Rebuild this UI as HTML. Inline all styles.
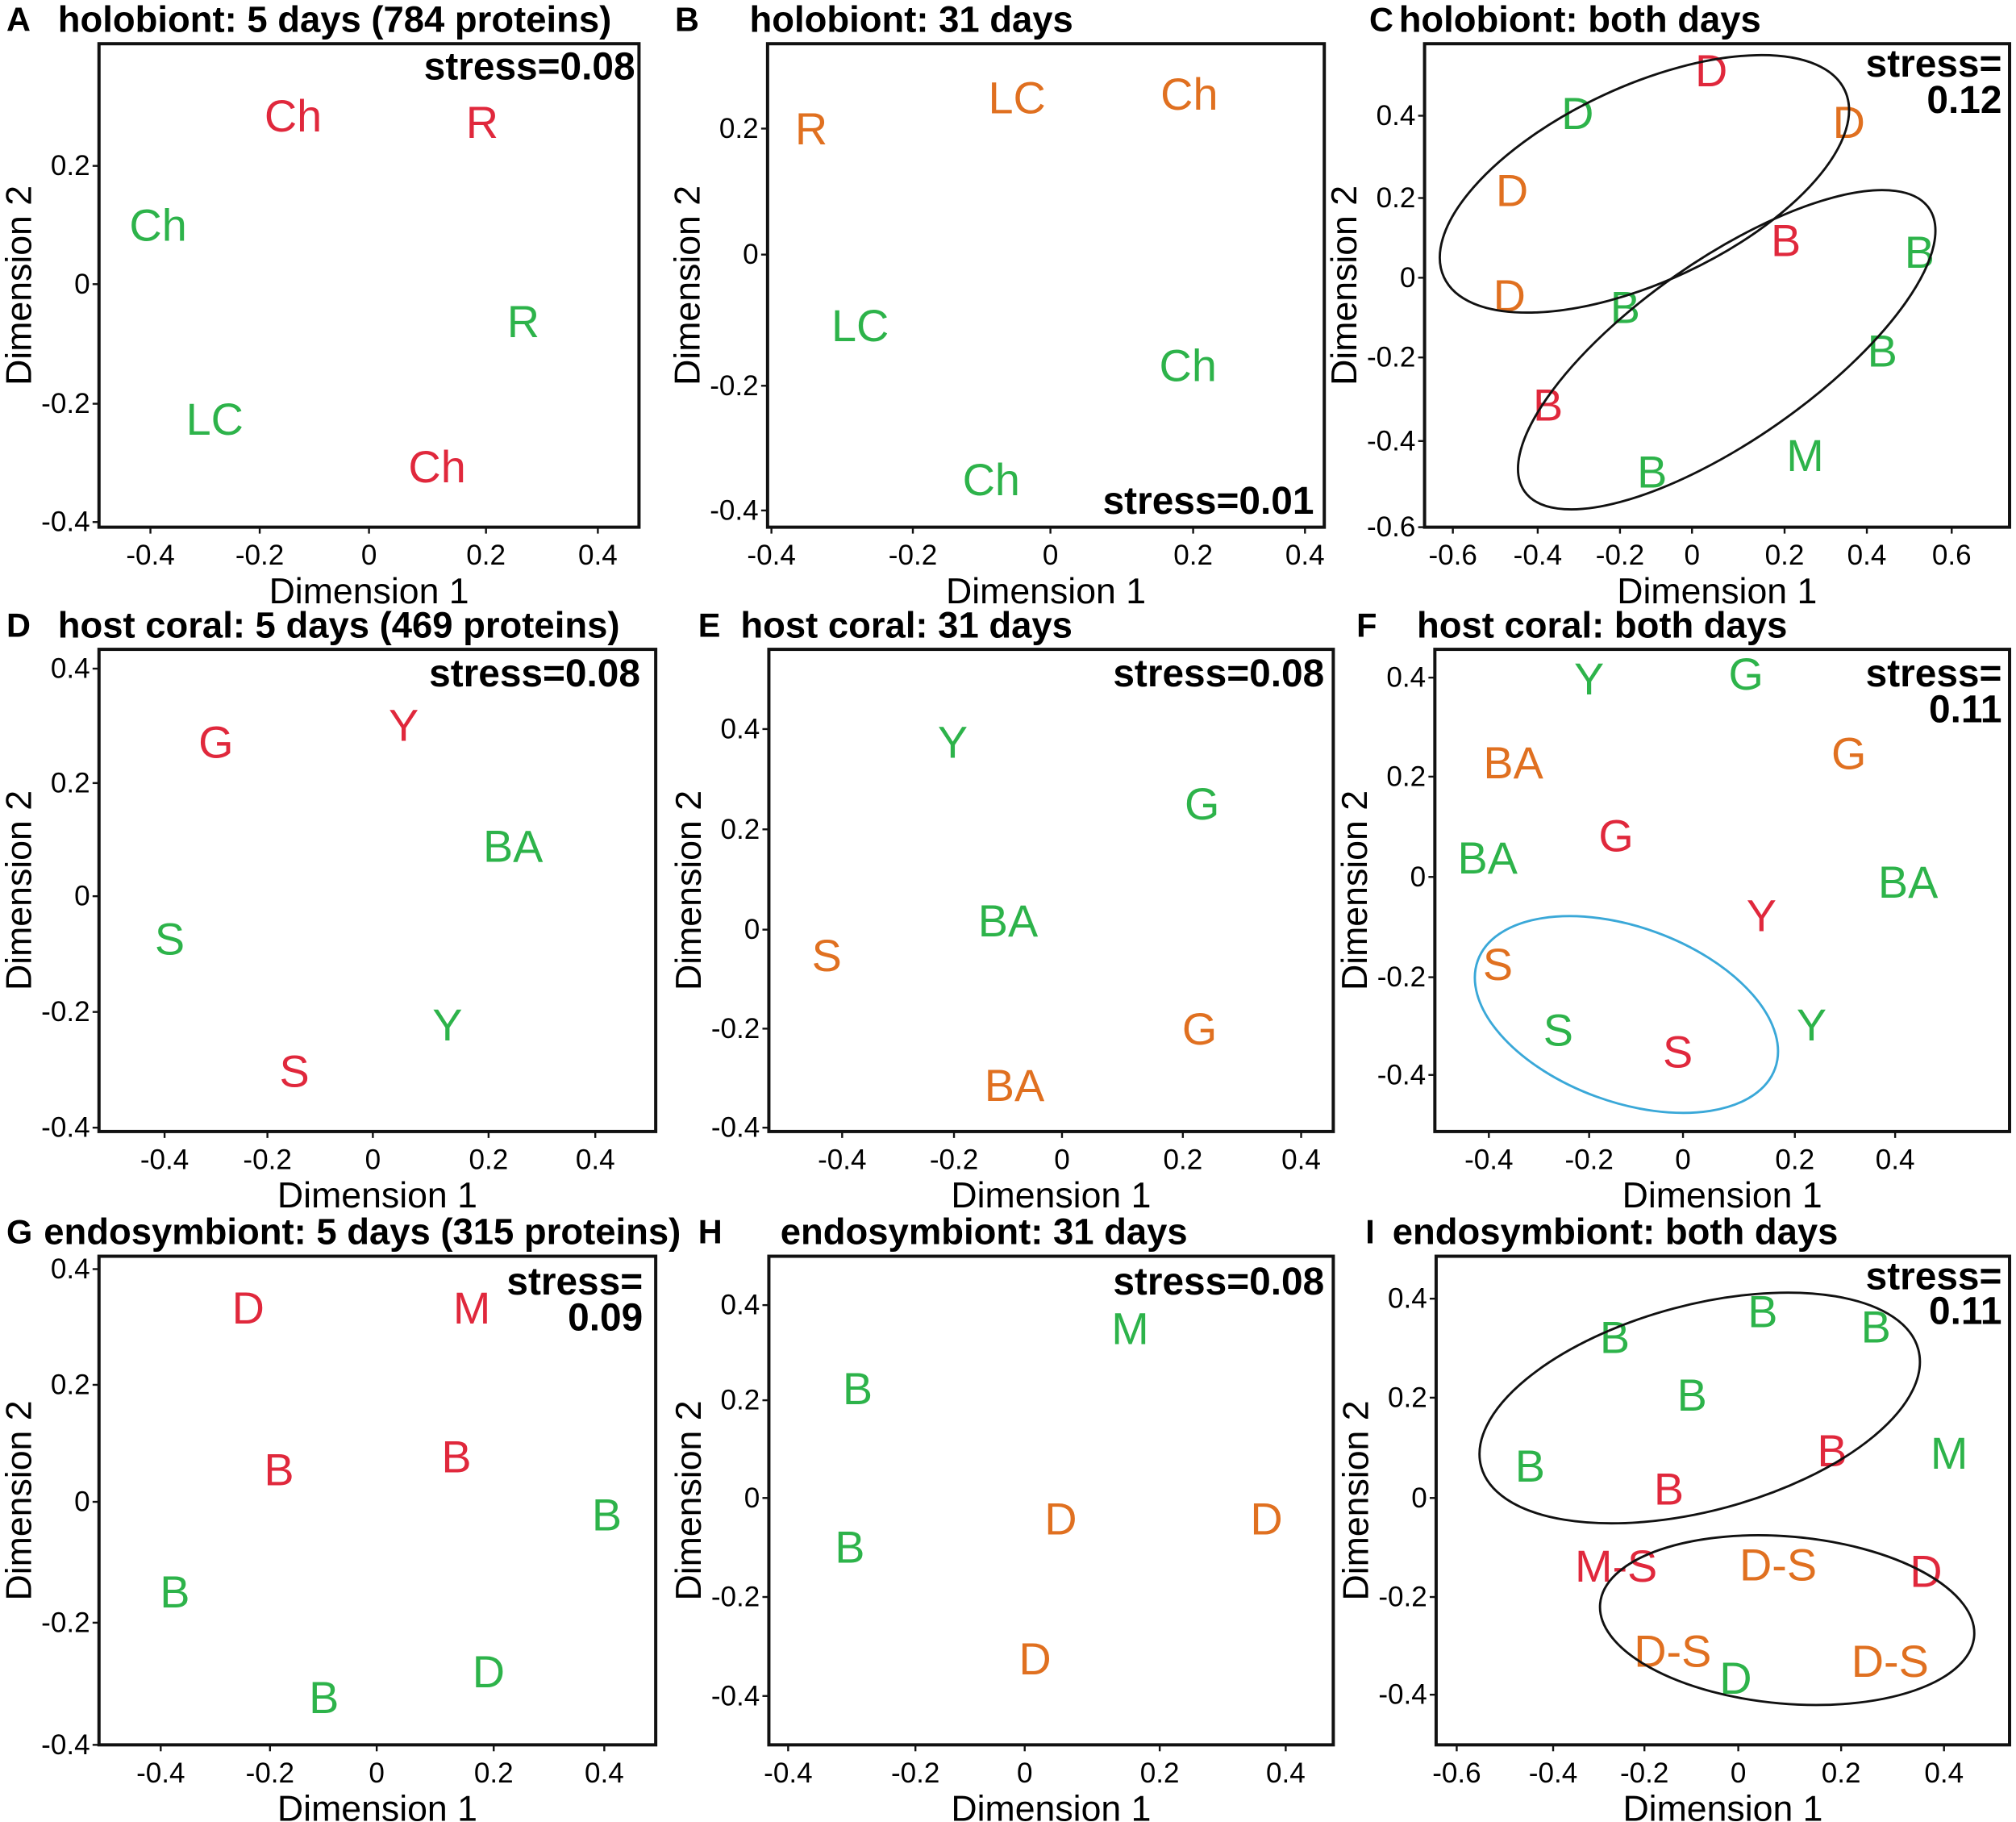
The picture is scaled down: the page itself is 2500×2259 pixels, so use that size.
<!DOCTYPE html>
<html><head><meta charset="utf-8"><style>
html,body{margin:0;padding:0;background:#fff}
svg{display:block}
text{font-family:"Liberation Sans",sans-serif}
</style></head><body>
<svg id="s" width="2500" height="2259" viewBox="0 0 1568 1417" preserveAspectRatio="none" xmlns="http://www.w3.org/2000/svg"></svg>
<script>
const R="#e0283c",G="#2db34a",O="#e07020";
const panels=[
{L:"A",lx:5,t:"holobiont: 5 days (784 proteins)",tx:45,ty:15,box:[77,34,497,410],
 yt:[["0.2",129],["0",221],["-0.2",314],["-0.4",406]],xt:[["-0.4",117],["-0.2",202],["0",287],["0.2",378],["0.4",465]],
 pts:[["Ch",R,228,90],["R",R,375,95],["Ch",G,123,175],["R",G,407,250],["LC",G,167,326],["Ch",R,340,363]],
 st:[["stress=0.08",494,52]]},
{L:"B",lx:525,t:"holobiont: 31 days",tx:583,ty:15,box:[597,34,1030,410],
 yt:[["0.2",100],["0",198],["-0.2",300],["-0.4",397]],xt:[["-0.4",600],["-0.2",710],["0",817],["0.2",928],["0.4",1015]],
 pts:[["R",O,631,100],["LC",O,791,76],["Ch",O,925,73],["LC",G,669,253],["Ch",G,924,284],["Ch",G,771,373]],
 st:[["stress=0.01",1022,390]]},
{L:"C",lx:1065,t:"holobiont: both days",tx:1088,ty:15,box:[1108,34,1563,410],
 yt:[["0.4",90],["0.2",154],["0",216],["-0.2",278],["-0.4",343],["-0.6",410]],xt:[["-0.6",1130],["-0.4",1196],["-0.2",1260],["0",1316],["0.2",1388],["0.4",1452],["0.6",1518]],
 pts:[["D",R,1331,55],["D",G,1227,88],["D",O,1438,95],["D",O,1176,148],["B",R,1389,187],["B",G,1493,196],["D",O,1174,230],["B",G,1264,239],["B",G,1464,273],["B",R,1204,315],["M",G,1404,354],["B",G,1285,367]],
 st:[["stress=",1557,50],["0.12",1557,78]],
 el:[[1279,143,172,76,-25,"#111"],[1343,272,192,70,-35,"#111"]]},
{L:"D",lx:5,t:"host coral: 5 days (469 proteins)",tx:45,ty:486,box:[77,505,510,880],
 yt:[["0.4",520],["0.2",609],["0",697],["-0.2",787],["-0.4",877]],xt:[["-0.4",128],["-0.2",208],["0",290],["0.2",380],["0.4",463]],
 pts:[["G",R,168,577],["Y",R,314,564],["BA",G,399,658],["S",G,132,730],["Y",G,348,797],["S",R,229,833]],
 st:[["stress=0.08",498,524]]},
{L:"E",lx:543,t:"host coral: 31 days",tx:576,ty:486,box:[598,505,1037,880],
 yt:[["0.4",567],["0.2",645],["0",723],["-0.2",800],["-0.4",877]],xt:[["-0.4",655],["-0.2",742],["0",826],["0.2",920],["0.4",1012]],
 pts:[["Y",G,741,577],["G",G,935,625],["BA",G,784,716],["S",O,643,743],["G",O,933,800],["BA",O,789,844]],
 st:[["stress=0.08",1030,524]]},
{L:"F",lx:1055,t:"host coral: both days",tx:1102,ty:486,box:[1116,505,1563,880],
 yt:[["0.4",527],["0.2",604],["0",682],["-0.2",760],["-0.4",836]],xt:[["-0.4",1158],["-0.2",1236],["0",1309],["0.2",1396],["0.4",1474]],
 pts:[["Y",G,1236,528],["G",G,1358,524],["BA",O,1177,593],["G",O,1438,586],["G",R,1257,650],["BA",G,1157,667],["BA",G,1484,686],["Y",R,1370,712],["S",O,1165,750],["Y",G,1409,797],["S",G,1212,801],["S",R,1305,818]],
 st:[["stress=",1557,524],["0.11",1557,552]],
 el:[[1265,789,123,68,20,"#3aa8d8"]]},
{L:"G",lx:5,t:"endosymbiont: 5 days (315 proteins)",tx:34,ty:958,box:[77,977,510,1357],
 yt:[["0.4",987],["0.2",1077],["0",1168],["-0.2",1262],["-0.4",1357]],xt:[["-0.4",125],["-0.2",210],["0",293],["0.2",384],["0.4",470]],
 pts:[["D",R,193,1017],["M",R,367,1017],["B",R,217,1143],["B",R,355,1133],["B",G,472,1178],["B",G,136,1238],["D",G,380,1300],["B",G,252,1320]],
 st:[["stress=",500,997],["0.09",500,1025]]},
{L:"H",lx:543,t:"endosymbiont: 31 days",tx:607,ty:958,box:[598,977,1037,1357],
 yt:[["0.4",1015],["0.2",1089],["0",1165],["-0.2",1242],["-0.4",1319]],xt:[["-0.4",613],["-0.2",712],["0",797],["0.2",902],["0.4",1000]],
 pts:[["M",G,879,1033],["B",G,667,1080],["D",O,825,1181],["D",O,985,1181],["B",G,661,1203],["D",O,805,1290]],
 st:[["stress=0.08",1030,997]]},
{L:"I",lx:1062,t:"endosymbiont: both days",tx:1083,ty:958,box:[1117,977,1563,1357],
 yt:[["0.4",1010],["0.2",1087],["0",1165],["-0.2",1242],["-0.4",1318]],xt:[["-0.6",1133],["-0.4",1208],["-0.2",1279],["0",1352],["0.2",1432],["0.4",1512]],
 pts:[["B",G,1256,1040],["B",G,1371,1020],["B",G,1459,1032],["B",G,1316,1085],["B",G,1190,1140],["B",R,1425,1128],["B",R,1298,1158],["M",G,1516,1130],["M-S",R,1257,1218],["D-S",O,1383,1217],["D",R,1498,1222],["D-S",O,1301,1284],["D",G,1350,1305],["D-S",O,1470,1292]],
 st:[["stress=",1557,993],["0.11",1557,1020]],
 el:[[1322,1095,176,80,-15,"#111"],[1390,1260,146,65,5,"#111"]]}
];
let h="";
for(const p of panels){
 const [x0,y0,x1,y1]=p.box;
 h+=`<text x="${p.lx}" y="${p.ty}" font-size="26" font-weight="bold" dominant-baseline="central">${p.L}</text>`;
 h+=`<text x="${p.tx}" y="${p.ty}" font-size="28.5" font-weight="bold" dominant-baseline="central">${p.t}</text>`;
 h+=`<rect x="${x0}" y="${y0}" width="${x1-x0}" height="${y1-y0}" fill="none" stroke="#111" stroke-width="2.5"/>`;
 for(const [l,y] of p.yt){h+=`<line x1="${x0-5}" x2="${x0}" y1="${y}" y2="${y}" stroke="#111" stroke-width="1.5"/><text x="${x0-7}" y="${y}" font-size="22" text-anchor="end" dominant-baseline="central">${l}</text>`;}
 for(const [l,x] of p.xt){h+=`<line x1="${x}" x2="${x}" y1="${y1}" y2="${y1+5}" stroke="#111" stroke-width="1.5"/><text x="${x}" y="${y1+22}" font-size="22" text-anchor="middle" dominant-baseline="central">${l}</text>`;}
 const cx=(x0+x1)/2, cy=(y0+y1)/2;
 h+=`<text x="${cx}" y="${y1+50}" font-size="28" text-anchor="middle" dominant-baseline="central">Dimension 1</text>`;
 h+=`<text transform="translate(${x0-62},${cy}) rotate(-90)" font-size="28" text-anchor="middle" dominant-baseline="central">Dimension 2</text>`;
 for(const [t,c,x,y] of p.pts){h+=`<text x="${x}" y="${y}" font-size="35" fill="${c}" text-anchor="middle" dominant-baseline="central">${t}</text>`;}
 for(const [t,x,y] of p.st){h+=`<text x="${x}" y="${y}" font-size="30" font-weight="bold" text-anchor="end" dominant-baseline="central">${t}</text>`;}
 if(p.el)for(const [ex,ey,rx,ry,a,c] of p.el){h+=`<ellipse cx="${ex}" cy="${ey}" rx="${rx}" ry="${ry}" transform="rotate(${a} ${ex} ${ey})" fill="none" stroke="${c}" stroke-width="1.8"/>`;}
}
document.getElementById("s").innerHTML=h;
</script>
</body></html>
